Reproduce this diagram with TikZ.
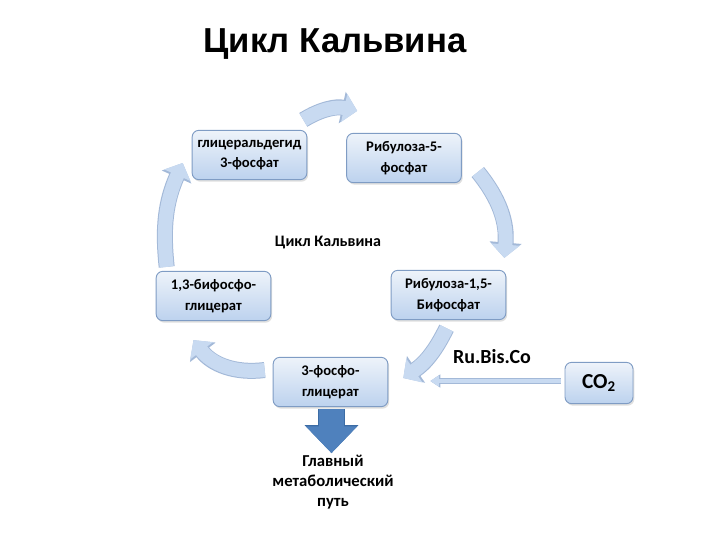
\documentclass[tikz,border=0pt]{standalone}
\usepackage{fontspec}
\setmainfont{Carlito}
\newfontfamily\titlefont{Liberation Sans}
\usetikzlibrary{arrows.meta,calc,shadows}

\definecolor{boxtop}{HTML}{EEF3FA}
\definecolor{boxbottom}{HTML}{BCD2EE}
\definecolor{boxedge}{HTML}{7F9CC4}
\definecolor{arrowfill}{HTML}{C8DAF1}
\definecolor{arrowedge}{HTML}{A3B9D8}
\definecolor{mainblue}{HTML}{4F81BD}
\definecolor{mainedge}{HTML}{3C6CA5}

\tikzset{
    cyclebox/.style={draw=boxedge, line width=0.7pt, rounded corners=5pt,
        top color=boxtop, bottom color=boxbottom,
        minimum width=86pt, minimum height=37pt, align=center,
        font=\bfseries\fontsize{11}{15.5}\selectfont,
        drop shadow={shadow xshift=1pt, shadow yshift=-1.5pt, opacity=0.25}},
    cyclearrow/.style={draw=arrowfill, line width=10.5pt,
        -{Triangle[length=10pt, width=21pt]},
        preaction={draw=arrowedge, line width=12pt,
            -{Triangle[length=11.5pt, width=23.5pt]}}},
    co2arrow/.style={draw=arrowfill, line width=3.5pt,
        -{Triangle[length=6.5pt, width=8pt]},
        preaction={draw=arrowedge, line width=4.6pt,
            -{Triangle[length=7.5pt, width=9.5pt]}}}
}

\begin{document}
\begin{tikzpicture}[x=0.75pt, y=-0.75pt]
    \useasboundingbox (0,0) rectangle (720,540);

    % title
    \node (title) at (335,44) {\titlefont\bfseries\fontsize{26}{30}\selectfont Цикл Кальвина};

    % cycle boxes
    \node[cyclebox] (gap)  at (249.5,155) {глицеральдегид\\3-фосфат};
    \node[cyclebox] (rup)  at (404,158)   {Рибулоза-5-\\фосфат};
    \node[cyclebox] (rubp) at (448.5,295) {Рибулоза-1,5-\\Бифосфат};
    \node[cyclebox] (pga)  at (330.5,382) {3-фосфо-\\глицерат};
    \node[cyclebox] (bpg)  at (213.5,296) {1,3-бифосфо-\\глицерат};
    \node[cyclebox, minimum width=51pt, minimum height=31pt,
        font=\bfseries\fontsize{16}{18}\selectfont] (co2) at (599,383) {CO\textsubscript{2}};

    \node[font=\bfseries\fontsize{12}{14}\selectfont] (cycle) at (328,243) {Цикл Кальвина};
    \node[font=\bfseries\fontsize{15}{18}\selectfont] (enzyme) at (492,357) {Ru.Bis.Co};

    % cycle arrows
    \draw[cyclearrow] ($(gap.north east)+(-4,-10)$) to[bend left=22] ($(rup.north west)+(11,-22)$);
    \draw[cyclearrow] ($(rup.east)+(16,14)$) to[bend left=22] ($(rubp.north east)+(-2,-12)$);
    \draw[cyclearrow] ($(rubp.south)+(-2,8)$) to[bend left=15] ($(pga.east)+(15,-4)$);
    \draw[cyclearrow] ($(pga.west)+(-8,-12)$) to[bend left=30] ($(bpg.south)+(-20,19)$);
    \draw[cyclearrow] ($(bpg.north west)+(11,-4)$) to[bend left=15] ($(gap.west)+(-9,8)$);

    % carbon dioxide in
    \draw[co2arrow] ($(co2.west)+(-4,-2)$) -- ($(pga.east)+(42,-1)$);

    % main path out
    \node[align=center, font=\bfseries\fontsize{12.5}{15}\selectfont] (mainpath) at (333,482)
        {Главный\\метаболический\\путь};
    \draw[draw=mainblue, line width=19pt, -{Triangle[length=20pt, width=37pt]},
        preaction={draw=mainedge, line width=20pt, -{Triangle[length=21pt, width=39pt]}}]
        ($(pga.south)+(1,2)$) -- ($(pga.south)+(1,46)$);
\end{tikzpicture}
\end{document}
